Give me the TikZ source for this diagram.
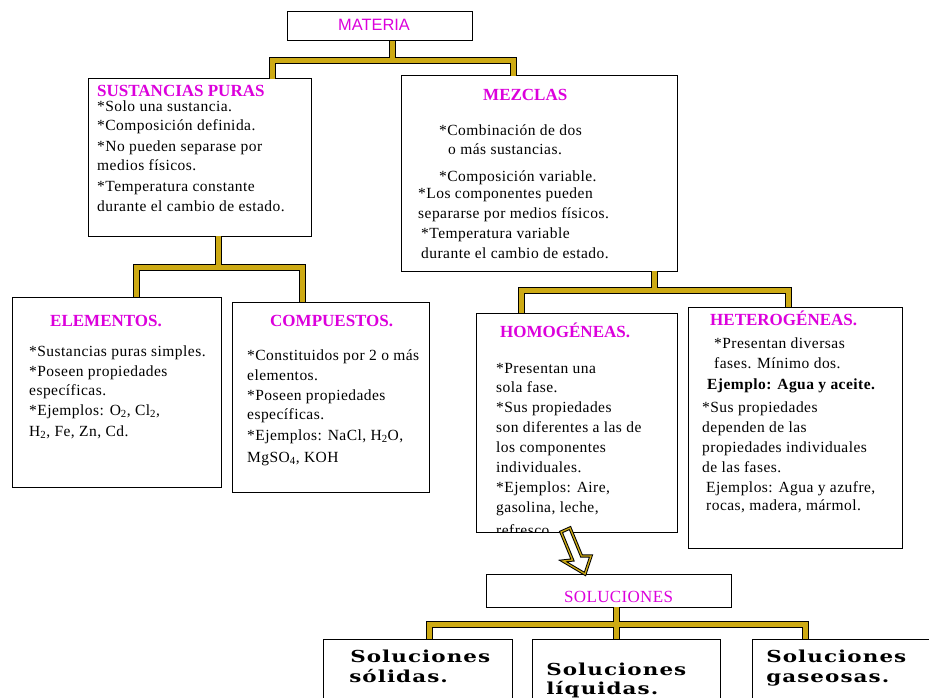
\documentclass[tikz,border=0pt]{standalone}
\usepackage{fontspec}
\setmainfont{Liberation Serif}
\newfontfamily\bodyf{Liberation Serif}[LetterSpace=3]
\newfontfamily\titlef{Liberation Serif}
\newfontfamily\bigf{DejaVu Serif}[LetterSpace=5]
\newfontfamily\solf{Liberation Serif}[LetterSpace=2]
\newfontfamily\sansf{Liberation Sans}
\definecolor{mag}{RGB}{220,0,220}
\definecolor{conny}{RGB}{205,170,20}
\tikzset{
  box/.style={draw=black, line width=1pt, fill=white, anchor=north west, inner sep=0pt, outer sep=0pt, minimum width=#1},
  box/.default=100pt,
  txt/.style={anchor=base west, inner sep=0pt, font=\bodyf\fontsize{15.5}{19}\selectfont},
  btxt/.style={txt, font=\bodyf\bfseries\fontsize{15.5}{19}\selectfont},
  ttl/.style={anchor=base west, inner sep=0pt, text=mag, font=\titlef\bfseries\fontsize{17}{20}\selectfont},
  stl/.style={anchor=base west, inner sep=0pt, text=mag, font=\sansf\fontsize{16.4}{19}\selectfont},
  soltl/.style={anchor=base west, inner sep=0pt, text=mag, font=\solf\fontsize{17}{19}\selectfont},
  bigt/.style={anchor=base west, inner sep=0pt, font=\bigf\bfseries\fontsize{16.5}{20}\selectfont, xscale=1.3},
  connout/.style={draw=black, line width=7pt, line join=miter},
  connin/.style={draw=conny, line width=5pt, line join=miter},
}
\begin{document}
\begin{tikzpicture}[x=1pt,y=-1pt]
\clip (0,0) rectangle (929,698);
\fill[white] (0,0) rectangle (929,698);

% ---------- boxes ----------
\node[box=185pt, minimum height=29pt] (materia) at (287,12) {};
\node[box=223pt, minimum height=157pt] (sp) at (88,79) {};
\node[box=276pt, minimum height=195pt] (mez) at (401,76) {};
\node[box=209pt, minimum height=190pt] (elem) at (12,297) {};
\node[box=197pt, minimum height=190pt] (comp) at (232,302) {};
\node[box=201pt, minimum height=219pt] (hom) at (476,313) {};
\node[box=214pt, minimum height=241pt] (het) at (688,307) {};
\node[box=245pt, minimum height=33pt] (sol) at (486,574) {};
\node[box=189pt, minimum height=80pt] (sols) at (323,639) {};
\node[box=188pt, minimum height=80pt] (soll) at (532,639) {};
\node[box=200pt, minimum height=80pt] (solg) at (752,639) {};

% ---------- texts ----------
\node[stl] (tmat) at (338,31) {MATERIA};

\node[ttl] (tsp) at (97,97) {SUSTANCIAS PURAS};
\node[txt] (sp1) at (97,112) {*Solo una sustancia.};
\node[txt] (sp2) at (97,131) {*Composición definida.};
\node[txt] (sp3) at (97,151) {*No pueden separase por};
\node[txt] (sp4) at (97,171) {medios físicos.};
\node[txt] (sp5) at (97,191) {*Temperatura constante};
\node[txt] (sp6) at (97,211) {durante el cambio de estado.};

\node[ttl] (tmez) at (483,101) {MEZCLAS};
\node[txt] (mz1) at (439,136) {*Combinación de dos};
\node[txt] (mz2) at (448,154) {o más sustancias.};
\node[txt] (mz3) at (439,181) {*Composición variable.};
\node[txt] (mz4) at (418,198) {*Los componentes pueden};
\node[txt] (mz5) at (418,218) {separarse por medios físicos.};
\node[txt] (mz6) at (421,238) {*Temperatura variable};
\node[txt] (mz7) at (421,258) {durante el cambio de estado.};

\node[ttl] (telem) at (50,326) {ELEMENTOS.};
\node[txt] (el1) at (29,356) {*Sustancias puras simples.};
\node[txt] (el2) at (29,376) {*Poseen propiedades};
\node[txt] (el3) at (29,395) {específicas.};
\node[txt] (el4) at (29,415) {*Ejemplos: O\textsubscript{2}, Cl\textsubscript{2},};
\node[txt] (el5) at (29,436) {H\textsubscript{2}, Fe, Zn, Cd.};

\node[ttl] (tcomp) at (270,326) {COMPUESTOS.};
\node[txt] (cp1) at (247,360) {*Constituidos por 2 o más};
\node[txt] (cp2) at (247,380) {elementos.};
\node[txt] (cp3) at (247,400) {*Poseen propiedades};
\node[txt] (cp4) at (247,419) {específicas.};
\node[txt] (cp5) at (247,440) {*Ejemplos: NaCl, H\textsubscript{2}O,};
\node[txt] (cp6) at (247,462) {MgSO\textsubscript{4}, KOH};

\begin{scope}
\clip (476,313) rectangle (677,532);
\node[ttl] (thom) at (500,337) {HOMOGÉNEAS.};
\node[txt] (hm1) at (496,373) {*Presentan una};
\node[txt] (hm2) at (496,392) {sola fase.};
\node[txt] (hm3) at (496,412) {*Sus propiedades};
\node[txt] (hm4) at (496,432) {son diferentes a las de};
\node[txt] (hm5) at (496,452) {los componentes};
\node[txt] (hm6) at (496,472) {individuales.};
\node[txt] (hm7) at (496,492) {*Ejemplos: Aire,};
\node[txt] (hm8) at (496,512) {gasolina, leche,};
\node[txt] (hm9) at (496,535) {refresco.};
\end{scope}

\node[ttl] (thet) at (710,325) {HETEROGÉNEAS.};
\node[txt] (ht1) at (714,348) {*Presentan diversas};
\node[txt] (ht2) at (714,368) {fases. Mínimo dos.};
\node[btxt] (ht3) at (707,389) {Ejemplo: Agua y aceite.};
\node[txt] (ht4) at (702,412) {*Sus propiedades};
\node[txt] (ht5) at (702,432) {dependen de las};
\node[txt] (ht6) at (702,452) {propiedades individuales};
\node[txt] (ht7) at (702,472) {de las fases.};
\node[txt] (ht8) at (706,492) {Ejemplos: Agua y azufre,};
\node[txt] (ht9) at (706,510) {rocas, madera, mármol.};

\node[soltl] (tsol) at (564,602) {SOLUCIONES};

\node[bigt] (ss1) at (350,662) {Soluciones};
\node[bigt] (ss2) at (349,682) {sólidas.};
\node[bigt] (sl1) at (546,675) {Soluciones};
\node[bigt] (sl2) at (546,694) {líquidas.};
\node[bigt] (sg1) at (766,662) {Soluciones};
\node[bigt] (sg2) at (766,682) {gaseosas.};

% ---------- connectors ----------
\coordinate (j1) at (392,61);
\coordinate (j2) at (218,267);
\coordinate (j3) at (654,290);
\coordinate (j4) at (616,624);
\coordinate (xsp) at (272,0);
\coordinate (xmez) at (513,0);
\coordinate (xel) at (136,0);
\coordinate (xcp) at (302,0);
\coordinate (xhom) at (521,0);
\coordinate (xhet) at (788,0);
\coordinate (xsl) at (429,0);
\coordinate (xsg) at (805,0);
\foreach \st in {connout,connin}{
  \draw[\st] (materia.south -| j1) -- (j1);
  \draw[\st] (sp.north -| xsp) |- (j1) -| (mez.north -| xmez);
  \draw[\st] (sp.south -| j2) -- (j2);
  \draw[\st] (elem.north -| xel) |- (j2) -| (comp.north -| xcp);
  \draw[\st] (mez.south -| j3) -- (j3);
  \draw[\st] (hom.north -| xhom) |- (j3) -| (het.north -| xhet);
  \draw[\st] (sol.south -| j4) -- (soll.north -| j4);
  \draw[\st] (sols.north -| xsl) |- (j4) -| (solg.north -| xsg);
}

% ---------- hollow arrow ----------
\coordinate (atip) at (585,0);
\draw[fill=white, line width=1pt, double=conny, double distance=1.3pt, line join=miter]
  (561,532) -- (572.5,560) -- (563,561) -- (sol.north -| atip) -- (591,556)
  -- (581.5,556) -- (570,528) -- cycle;
\end{tikzpicture}
\end{document}
